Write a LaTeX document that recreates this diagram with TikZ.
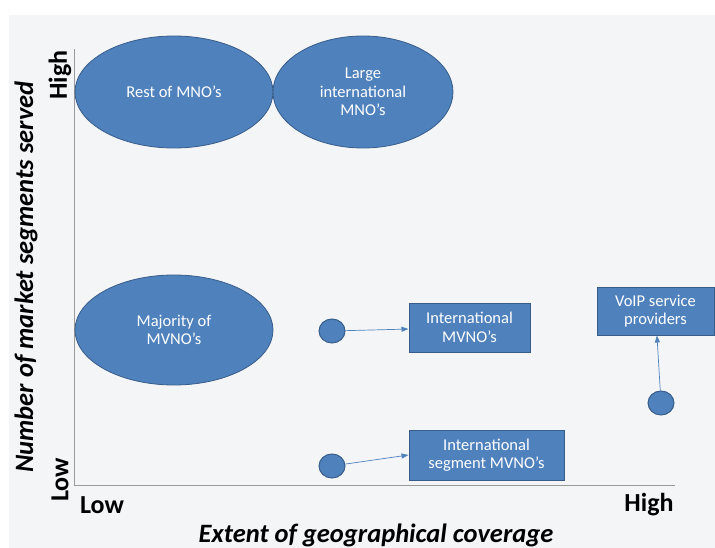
\documentclass[tikz,border=0pt]{standalone}
\usepackage{fontspec}
\setmainfont{Carlito}
\usetikzlibrary{shapes.geometric,arrows.meta}
\definecolor{bluefill}{HTML}{4F81BD}
\definecolor{blueline}{HTML}{385D8A}
\definecolor{paper}{HTML}{F4F5F7}
\definecolor{axisgrey}{HTML}{9A9A9A}
\tikzset{
  blob/.style={ellipse, fill=bluefill, draw=blueline, line width=0.8pt, text=white, align=center, inner sep=0pt, font=\fontsize{16.5}{18.5}\selectfont},
  spot/.style={ellipse, fill=bluefill, draw=blueline, line width=1pt, minimum width=26, minimum height=24, inner sep=0pt},
  tagbox/.style={rectangle, fill=bluefill, draw=blueline, line width=1pt, text=white, align=center, inner sep=0pt, font=\fontsize{16.5}{18.5}\selectfont},
  pointer/.style={-{Triangle[length=7pt,width=5pt]}, bluefill, line width=0.7pt},
  ticklabel/.style={font=\fontsize{26}{30}\selectfont\bfseries},
  axistitle/.style={font=\fontsize{26.5}{30}\selectfont\bfseries\itshape}
}

\begin{document}
\begin{tikzpicture}[x=1pt, y=-1pt]
			%%%%% START %%%%%
			
			\useasboundingbox (0, 0) rectangle (715, 548);
			\fill[paper] (9, 15) rectangle (715, 548);
			
			% axes
			\coordinate (ytop) at (74, 49);
			\coordinate (origin) at (74, 485);
			\coordinate (xend) at (675, 485);
			\draw[axisgrey, line width=1pt] (ytop) -- (origin) -- (xend);
			
			\node[ticklabel, rotate=90] (yhigh) at (60, 75) {High};
			\node[ticklabel, rotate=90] (ylow) at (60, 480) {Low};
			\node[ticklabel] (xlow) at (102, 505) {Low};
			\node[ticklabel] (xhigh) at (649, 505) {High};
			
			\node[axistitle, rotate=90] (ytitle) at (26, 277) {Number of market segments served};
			\node[axistitle] (xtitle) at (376, 535) {Extent of geographical coverage};
			
			% big groups
			\node[blob, minimum width=198, minimum height=112] (rest) at (174, 92) {Rest of MNO’s};
			\node[blob, minimum width=180, minimum height=112] (large) at (363, 92) {Large\\international\\MNO’s};
			\node[blob, minimum width=198, minimum height=110] (majority) at (174, 330) {Majority of\\MVNO’s};
			
			% small groups
			\node[spot] (intlspot) at (332, 331) {};
			\node[spot] (segspot) at (332, 466) {};
			\node[spot] (voipspot) at (661, 403) {};
			
			\node[tagbox, minimum width=121, minimum height=49] (intl) at (469.5, 327.5) {International\\MVNO’s};
			\node[tagbox, minimum width=117, minimum height=48] (voip) at (655.5, 311) {VoIP service\\providers};
			\node[tagbox, minimum width=155, minimum height=50] (seg) at (486.5, 455) {International\\segment MVNO’s};
			
			\draw[pointer] (intlspot) -- (intl);
			\draw[pointer] (segspot) -- (seg.west);
			\draw[pointer] (voipspot) -- (voip);
			
			%%%%% END %%%%%
\end{tikzpicture}
\end{document}
